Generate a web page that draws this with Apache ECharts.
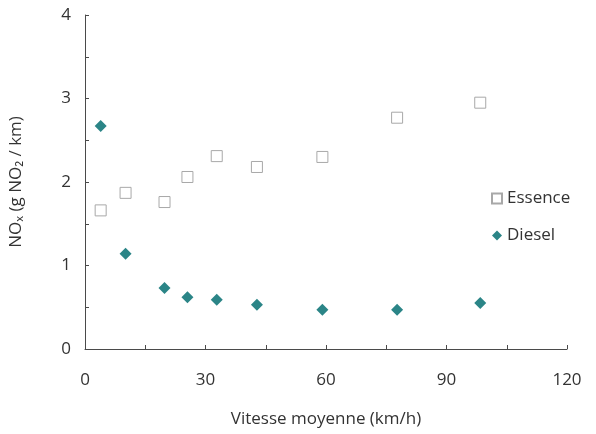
<!DOCTYPE html>
<html>
<head>
<meta charset="UTF-8">
<title>NOx</title>
<style>
    html,body{padding:0; margin:0; background:#fff;}
    #main{width:596px; height:434px;}
</style>
<script src="https://cdn.jsdelivr.net/npm/echarts@6/dist/echarts.min.js"></script>
</head>
<body>
<div id="main"></div>
<script type="text/javascript">
    // vitesse moyenne (km/h)
    var vitesse = [3.9, 10.1, 19.8, 25.5, 32.8, 42.8, 59.1, 77.7, 98.4];
    // NOx (g NO2 / km)
    var essence = [1.66, 1.87, 1.76, 2.06, 2.31, 2.18, 2.30, 2.77, 2.95];
    var diesel = [2.67, 1.14, 0.73, 0.62, 0.59, 0.53, 0.47, 0.47, 0.55];

    function pairs(xs, ys) {
        return xs.map(function (x, i) { return [x, ys[i]]; });
    }

    var font = 'Open Sans, Noto Sans, sans-serif';
    var axisColor = '#4a4a4a';

    var myChart = echarts.init(document.getElementById('main'));
    var option = {
        animation: false,
        backgroundColor: '#fff',
        textStyle: {fontFamily: font},
        grid: {left: 82, right: 29, top: 15, bottom: 85},
        legend: {
            orient: 'vertical',
            left: 486,
            top: 185,
            itemGap: 20,
            itemWidth: 10,
            itemHeight: 10,
            textStyle: {fontSize: 17, color: '#333', fontFamily: font},
            data: [
                {name: 'Essence', icon: 'rect'},
                {name: 'Diesel', icon: 'diamond'}
            ]
        },
        xAxis: {
            type: 'value',
            min: 0, max: 120, interval: 15,
            name: 'Vitesse moyenne (km/h)',
            nameLocation: 'middle',
            nameGap: 62,
            nameTextStyle: {fontSize: 17, color: '#333'},
            axisLine: {lineStyle: {color: axisColor, width: 1}},
            axisTick: {inside: true, length: 4, lineStyle: {color: axisColor}},
            axisLabel: {
                fontSize: 17, color: '#333', margin: 23,
                formatter: function (v) { return v % 30 === 0 ? v : ''; }
            },
            splitLine: {show: false}
        },
        yAxis: {
            type: 'value',
            min: 0, max: 4, interval: 0.5,
            name: 'NOₓ (g NO₂ / km)',
            nameLocation: 'middle',
            nameGap: 60,
            nameTextStyle: {fontSize: 17, color: '#333'},
            axisLine: {show: true, lineStyle: {color: axisColor, width: 1}},
            axisTick: {show: true, inside: true, length: 4, lineStyle: {color: axisColor}},
            axisLabel: {
                fontSize: 17, color: '#333', margin: 14,
                formatter: function (v) { return v % 1 === 0 ? v : ''; }
            },
            splitLine: {show: false}
        },
        series: [
            {
                name: 'Essence',
                type: 'scatter',
                symbol: 'rect',
                symbolSize: 11,
                itemStyle: {color: '#fff', borderColor: '#a8a8a8', borderWidth: 1, opacity: 1},
                data: pairs(vitesse, essence)
            },
            {
                name: 'Diesel',
                type: 'scatter',
                symbol: 'diamond',
                symbolSize: 12,
                itemStyle: {color: '#2b8587', opacity: 1},
                data: pairs(vitesse, diesel)
            }
        ]
    };
    myChart.setOption(option);
</script>
</body>
</html>
